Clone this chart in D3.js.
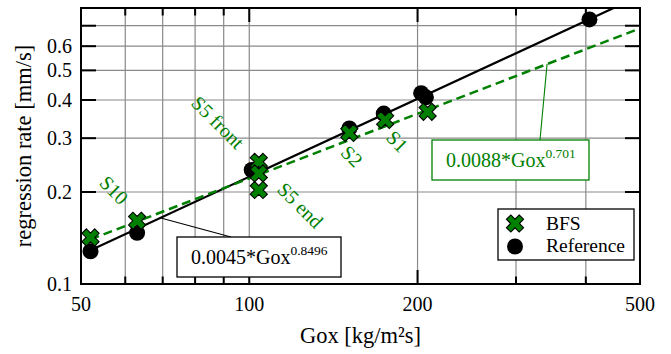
<!DOCTYPE html>
<html><head><meta charset="utf-8">
<script src="https://cdn.jsdelivr.net/npm/d3@7"></script>
<style>
html,body{margin:0;padding:0;background:#fff;}
</style></head>
<body>
<svg id="chart" width="671" height="354" font-family="'Liberation Serif', 'DejaVu Serif', serif"></svg>
<script>
// ---- data ----
const refX = [52, 63, 101, 151, 174, 203, 207, 406];
const refY = [0.128, 0.147, 0.236, 0.323, 0.361, 0.421, 0.408, 0.734];
const bfsX = [52, 63, 104, 104, 104, 151, 175, 208.5];
const bfsY = [0.142, 0.161, 0.251, 0.230, 0.203, 0.312, 0.344, 0.366];
// fit lines (end points)
const refFitX = [52, 500];
const refFitY = [0.129, 0.877];
const bfsFitX = [52, 500];
const bfsFitY = [0.140, 0.686];
const xTicks = [50, 100, 200, 500];
const xGrid = [60, 70, 80, 90, 100, 200, 300, 400];
const yTicks = [0.1, 0.2, 0.3, 0.4, 0.5, 0.6];
const yGrid = [0.2, 0.3, 0.4, 0.5, 0.6, 0.7];
const sampleLabels = ["S10", "S5 front", "S5 end", "S2", "S1"];
const sampleLabelX = [57.3, 87.9, 123.4, 152.7, 184];
const sampleLabelY = [0.203, 0.338, 0.181, 0.262, 0.293];

const W = 671, H = 354;
const m = {l: 81, r: 31, t: 8, b: 70};
const green = "#008000";
const svg = d3.select("#chart");
const x = d3.scaleLog().domain([50, 500]).range([m.l, W - m.r]);
const y = d3.scaleLog().domain([0.1, 0.8]).range([H - m.b, m.t]);
const x0 = m.l, x1 = W - m.r, y0 = H - m.b, y1 = m.t;

svg.append("defs").append("clipPath").attr("id", "clip")
  .append("rect").attr("x", x0).attr("y", y1).attr("width", x1 - x0).attr("height", y0 - y1);

// grid
const g = svg.append("g");
g.selectAll(".gx").data(xGrid).join("line")
  .attr("x1", d => x(d)).attr("x2", d => x(d)).attr("y1", y0).attr("y2", y1)
  .attr("stroke", "#8a8a8a").attr("stroke-width", 1.2);
g.selectAll(".gy").data(yGrid).join("line")
  .attr("y1", d => y(d)).attr("y2", d => y(d)).attr("x1", x0).attr("x2", x1)
  .attr("stroke", "#8a8a8a").attr("stroke-width", 1.2);

// ticks (inside, mirrored)
const tk = svg.append("g").attr("stroke", "#000").attr("stroke-width", 2);
xGrid.forEach(v => {
  const len = (v === 100 || v === 200) ? 14 : 7.5;
  tk.append("line").attr("x1", x(v)).attr("x2", x(v)).attr("y1", y0).attr("y2", y0 - len);
  tk.append("line").attr("x1", x(v)).attr("x2", x(v)).attr("y1", y1).attr("y2", y1 + len);
});
yGrid.forEach(v => {
  tk.append("line").attr("y1", y(v)).attr("y2", y(v)).attr("x1", x0).attr("x2", x0 + 15);
  tk.append("line").attr("y1", y(v)).attr("y2", y(v)).attr("x1", x1).attr("x2", x1 - 15);
});

// fit lines
const line = d3.line().x(d => x(d[0])).y(d => y(d[1]));
const pl = svg.append("g").attr("clip-path", "url(#clip)");
pl.append("path").datum(refFitX.map((v, i) => [v, refFitY[i]])).attr("d", line)
  .attr("fill", "none").attr("stroke", "#000").attr("stroke-width", 2.2);
pl.append("path").datum(bfsFitX.map((v, i) => [v, bfsFitY[i]])).attr("d", line)
  .attr("fill", "none").attr("stroke", green).attr("stroke-width", 2.5)
  .attr("stroke-dasharray", "9,5");

// markers
const r = 9, t = 3.1;
const plus = [[-t,-r],[t,-r],[t,-t],[r,-t],[r,t],[t,t],[t,r],[-t,r],[-t,t],[-r,t],[-r,-t],[-t,-t]];
const xPath = "M" + plus.map(p => [(p[0]-p[1])/Math.SQRT2, (p[0]+p[1])/Math.SQRT2].map(n => n.toFixed(2)).join(",")).join("L") + "Z";

pl.selectAll(".ref").data(refX).join("circle")
  .attr("cx", d => x(d)).attr("cy", (d, i) => y(refY[i])).attr("r", 8).attr("fill", "#000");
pl.selectAll(".bfs").data(bfsX).join("path")
  .attr("d", xPath).attr("transform", (d, i) => `translate(${x(d)},${y(bfsY[i])})`)
  .attr("fill", green).attr("stroke", "#000").attr("stroke-width", 1.1).attr("stroke-linejoin", "miter");

// frame
svg.append("rect").attr("x", x0).attr("y", y1).attr("width", x1 - x0).attr("height", y0 - y1)
  .attr("fill", "none").attr("stroke", "#000").attr("stroke-width", 2);

// tick labels
svg.selectAll(".xl").data(xTicks).join("text")
  .attr("x", d => x(d)).attr("y", 311).attr("text-anchor", "middle")
  .attr("font-size", 20).text(d => d);
svg.selectAll(".yl").data(yTicks).join("text")
  .attr("x", 72).attr("y", d => y(d) + 6.5).attr("text-anchor", "end")
  .attr("font-size", 20).text(d => d);

// axis titles
svg.append("text").attr("transform", `translate(31,${(y0 + y1) / 2}) rotate(-90)`)
  .attr("text-anchor", "middle").attr("font-size", 22.5).text("regression rate [mm/s]");
svg.append("text").attr("x", (x0 + x1) / 2).attr("y", 343)
  .attr("text-anchor", "middle").attr("font-size", 22.5).text("Gox [kg/m²s]");

// sample labels
svg.selectAll(".sl").data(sampleLabels).join("text")
  .attr("transform", (d, i) => `translate(${x(sampleLabelX[i])},${y(sampleLabelY[i])}) rotate(45)`)
  .attr("text-anchor", "middle").attr("dy", "0.35em")
  .attr("font-size", 20).attr("fill", green).text(d => d);

// fit annotation boxes
function fitBox(bx, by, bw, bh, base, exp, color, ax, ay) {
  const gg = svg.append("g");
  gg.append("line").attr("x1", x(ax)).attr("y1", y(ay)).attr("x2", bx.lx).attr("y2", by)
    .attr("stroke", color).attr("stroke-width", 1.1);
  gg.append("rect").attr("x", bx.x).attr("y", by).attr("width", bw).attr("height", bh)
    .attr("fill", "#fff").attr("stroke", color).attr("stroke-width", 1.3);
  const tx = gg.append("text").attr("x", bx.x + 14).attr("y", by + 27)
    .attr("font-size", 20).attr("fill", color);
  tx.append("tspan").text(base);
  tx.append("tspan").attr("dy", -9).attr("font-size", 13.5).text(exp);
}
fitBox({x: 432, lx: 540}, 140, 157, 40, "0.0088*Gox", "0.701", green, 341, 0.525);
fitBox({x: 177, lx: 231}, 237, 164, 40, "0.0045*Gox", "0.8496", "#000", 69.2, 0.1647);

// legend
const lg = svg.append("g");
lg.append("rect").attr("x", 498).attr("y", 209).attr("width", 136).attr("height", 51)
  .attr("fill", "#fff").attr("stroke", "#000").attr("stroke-width", 1.3);
lg.append("path").attr("d", xPath).attr("transform", "translate(515,223.5)")
  .attr("fill", green).attr("stroke", "#000").attr("stroke-width", 1.1);
lg.append("circle").attr("cx", 515).attr("cy", 246.5).attr("r", 8).attr("fill", "#000");
lg.append("text").attr("x", 546).attr("y", 230).attr("font-size", 19.5).text("BFS");
lg.append("text").attr("x", 546).attr("y", 252).attr("font-size", 19.5).text("Reference");
</script>
</body></html>
